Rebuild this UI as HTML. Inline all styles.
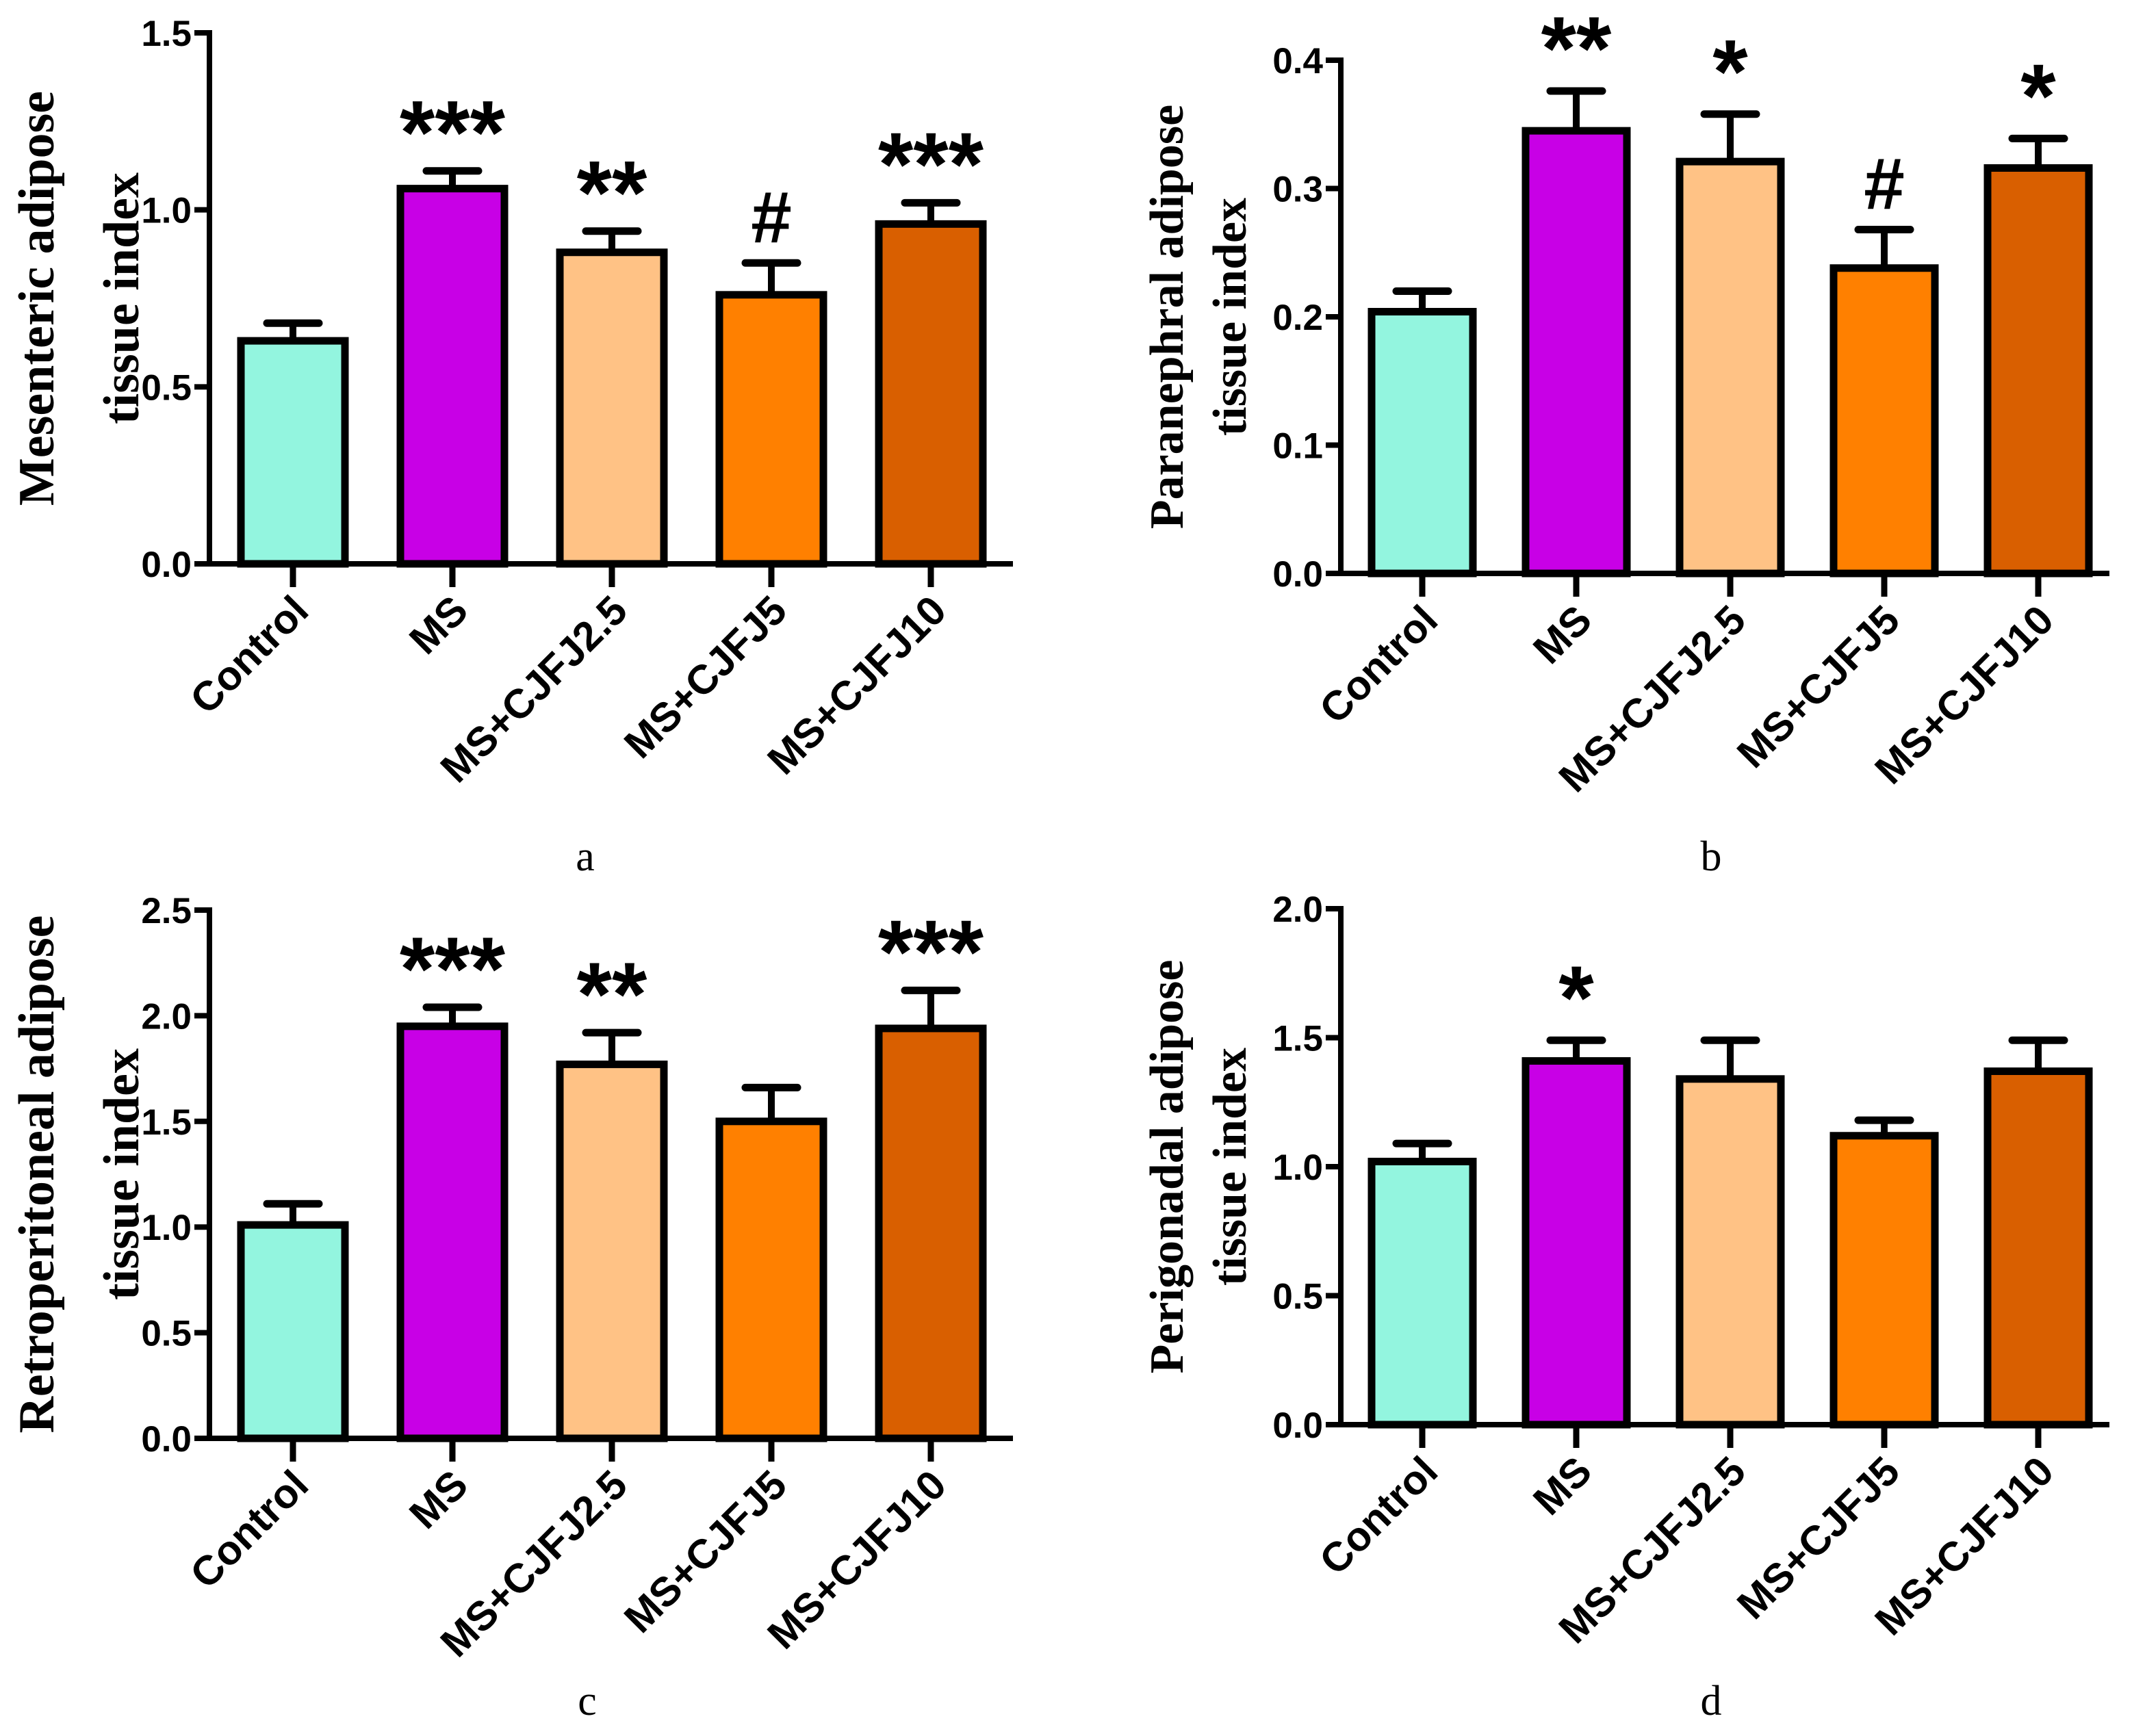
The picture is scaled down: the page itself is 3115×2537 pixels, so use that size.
<!DOCTYPE html>
<html><head><meta charset="utf-8"><style>
html,body{margin:0;padding:0;background:#fff;}
svg{display:block;}
.tk{font-family:"Liberation Sans",Arial,sans-serif;font-weight:bold;font-size:53px;fill:#000;}
.cat{font-family:"Liberation Sans",Arial,sans-serif;font-weight:bold;font-size:60px;fill:#000;}
.yt{font-family:"Liberation Serif","Times New Roman",serif;font-weight:bold;fill:#000;}
.pl{font-family:"Liberation Serif","Times New Roman",serif;font-size:62px;fill:#000;}
.sig{font-family:"Liberation Sans",Arial,sans-serif;font-weight:bold;fill:#000;}
</style></head><body>
<svg id="fig" width="3115" height="2537" viewBox="0 0 3115 2537" xmlns="http://www.w3.org/2000/svg"></svg>
<script>
const categories = ["Control","MS","MS+CJFJ2.5","MS+CJFJ5","MS+CJFJ10"];
const colors = ["#93f5df","#c800e6","#ffc285","#ff8000","#d95f00"];
// panel a
const aMeans = [0.63,1.06,0.88,0.76,0.96];
const aErr = [0.05,0.05,0.06,0.09,0.06];
const aSig = ["","***","**","#","***"];
const aTicks = ["0.0","0.5","1.0","1.5"];
// panel b
const bMeans = [0.204,0.345,0.321,0.238,0.316];
const bErr = [0.016,0.031,0.037,0.030,0.023];
const bSig = ["","**","*","#","*"];
const bTicks = ["0.0","0.1","0.2","0.3","0.4"];
// panel c
const cMeans = [1.01,1.95,1.77,1.50,1.94];
const cErr = [0.10,0.09,0.15,0.16,0.18];
const cSig = ["","***","**","","***"];
const cTicks = ["0.0","0.5","1.0","1.5","2.0","2.5"];
// panel d
const dMeans = [1.02,1.41,1.34,1.12,1.37];
const dErr = [0.07,0.08,0.15,0.06,0.12];
const dSig = ["","*","","",""];
const dTicks = ["0.0","0.5","1.0","1.5","2.0"];

const NS="http://www.w3.org/2000/svg";
const svg=document.getElementById('fig');
function mk(tag,attrs,parent){const e=document.createElementNS(NS,tag);for(const k in attrs)e.setAttribute(k,attrs[k]);(parent||svg).appendChild(e);return e;}

function panel(key,o,means,errs,sigs,ticks){
  const g=mk('g',{});
  
  
  const yMax=parseFloat(ticks[ticks.length-1]);
  const y=v=>o.y0-(v/yMax)*(o.y0-o.yTop);
  const x=i=>o.x1+i*o.step;
  means.forEach((m,i)=>{
    const e=y(m+errs[i]);
    const eb=mk('line',{x1:x(i),x2:x(i),y1:y(m),y2:e,stroke:'#000','stroke-width':10},g);
    
    
    const cap=mk('line',{x1:x(i)-38,x2:x(i)+38,y1:e,y2:e,stroke:'#000','stroke-width':11,'stroke-linecap':'round'},g);
    
    
    const r=mk('rect',{x:x(i)-o.bw/2,y:y(m),width:o.bw,height:o.y0-y(m),fill:colors[i],stroke:'#000','stroke-width':11},g);
    
    
    if(sigs[i]){
      const hash=sigs[i]==='#';
      const fs=hash?107:132;
      const by=hash?e-30:e-o.sg-10+0.57*fs;
      const t=mk('text',{x:x(i),y:by,'text-anchor':'middle','font-size':fs,class:'sig'},g);
      t.textContent=sigs[i];
      
      
    }
    const tk=mk('line',{x1:x(i),x2:x(i),y1:o.y0,y2:o.y0+34,stroke:'#000','stroke-width':9},g);
    
    
    const ct=mk('text',{x:0,y:0,'text-anchor':'end',class:'cat',transform:`translate(${x(i)+26},${o.y0+72}) rotate(-45)`},g);
    ct.textContent=categories[i];
    
    
  });
  const ya=mk('line',{x1:o.ax,x2:o.ax,y1:o.yTop-4,y2:o.y0+4,stroke:'#000','stroke-width':8},g);
  
  
  const xa=mk('line',{x1:o.ax-22,x2:o.xEnd,y1:o.y0,y2:o.y0,stroke:'#000','stroke-width':8},g);
  
  
  ticks.forEach(t=>{
    const v=parseFloat(t);
    const l=mk('line',{x1:o.ax-22,x2:o.ax,y1:y(v),y2:y(v),stroke:'#000','stroke-width':8},g);
    
    
    const tx=mk('text',{x:o.ax-26,y:y(v)+19,'text-anchor':'end',class:'tk'},g);
    tx.textContent=t;
    
    
  });
  const yc=(o.y0+o.yTop)/2;
  o.title.forEach((ln,j)=>{
    const tt=mk('text',{x:0,y:0,'text-anchor':'middle',class:'yt','font-size':o.tfs,transform:`translate(${o.tx[j]},${yc}) rotate(-90)`},g);
    tt.textContent=ln;
    
    
  });
  const pl=mk('text',{x:o.lx,y:o.ly,'text-anchor':'middle',class:'pl'},g);
  pl.textContent=key;
  
  
}

panel('a',{ax:306,y0:824,yTop:48,x1:428,step:233,bw:152,xEnd:1480,sg:76,title:["Mesenteric adipose","tissue index"],tx:[78,202],tfs:74,lx:855,ly:1272},aMeans,aErr,aSig,aTicks);
panel('b',{ax:1959,y0:838,yTop:88,x1:2078,step:225,bw:148,xEnd:3082,sg:82,title:["Paranephral adipose","tissue index"],tx:[1728,1820],tfs:70,lx:2500,ly:1272},bMeans,bErr,bSig,bTicks);
panel('c',{ax:306,y0:2102,yTop:1330,x1:428,step:233,bw:152,xEnd:1480,sg:76,title:["Retroperitoneal adipose","tissue index"],tx:[78,202],tfs:74,lx:858,ly:2506},cMeans,cErr,cSig,cTicks);
panel('d',{ax:1959,y0:2082,yTop:1328,x1:2078,step:225,bw:148,xEnd:3082,sg:82,title:["Perigonadal adipose","tissue index"],tx:[1728,1820],tfs:70,lx:2500,ly:2506},dMeans,dErr,dSig,dTicks);
</script>
</body></html>
